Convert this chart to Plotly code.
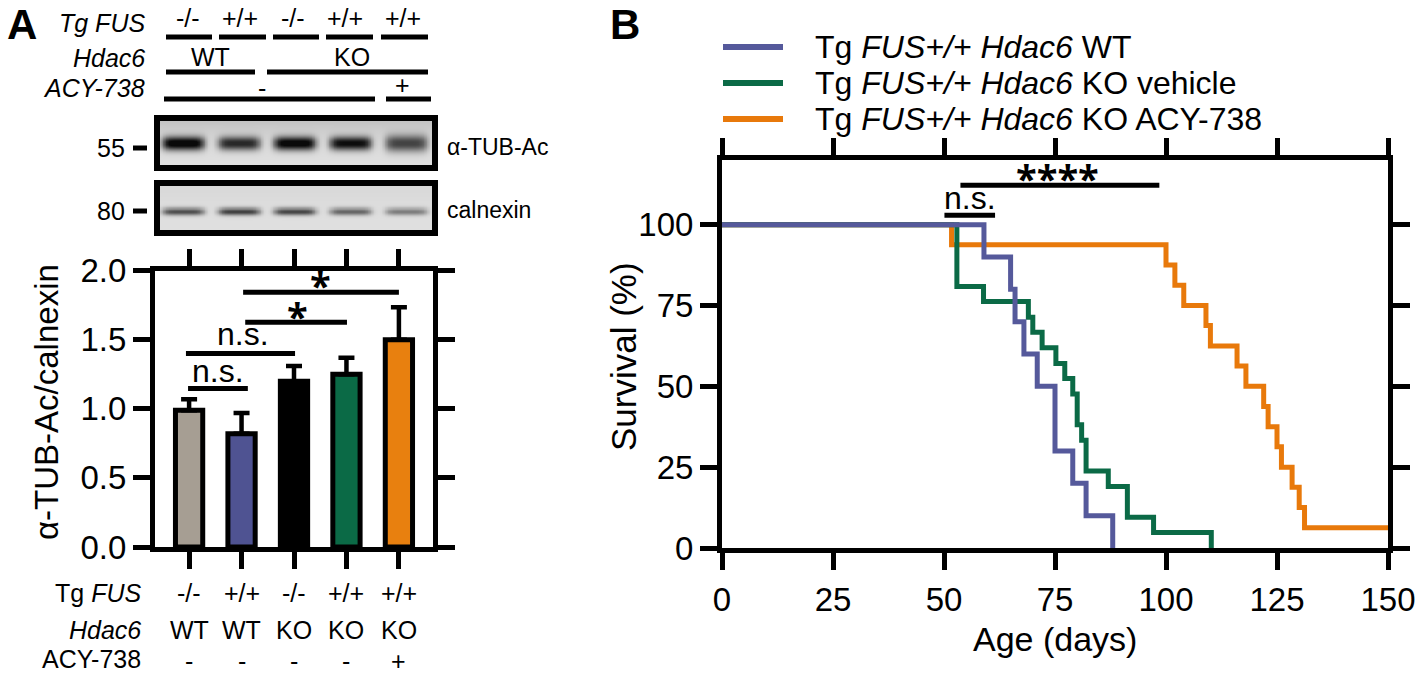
import numpy as np
import plotly.graph_objects as go

# ---------------- data ----------------
groups = ["1", "2", "3", "4", "5"]
fus_labels = ["-/-", "+/+", "-/-", "+/+", "+/+"]
hdac6_labels = ["WT", "WT", "KO", "KO", "KO"]
acy_labels = ["-", "-", "-", "-", "+"]

bar_values = [0.99, 0.82, 1.20, 1.25, 1.50]
bar_sem = [0.08, 0.15, 0.11, 0.12, 0.235]
bar_colors = ["#a69e93", "#4f5392", "#000000", "#0b6a46", "#e8800f"]

blot_tub_intensity = [0.97, 0.76, 0.95, 0.88, 0.64]
blot_cnx_intensity = [0.62, 0.68, 0.66, 0.52, 0.42]

wt_days = [0, 59, 65, 66, 68, 71, 75, 79, 82, 88]
wt_surv = [100, 90, 80, 70, 60, 50, 30, 20, 10, 0]

ko_days = [0, 52.9, 58.9, 69, 70, 72.1, 75.2, 77.2, 79, 80, 81, 82, 87, 91.3, 97.2, 110.2]
ko_surv = [100, 80.9, 76.2, 71.4, 66.7, 61.9, 57.1, 52.4, 47.6, 38.1, 33.3, 23.8, 19.0, 9.5, 4.8, 0]

acy_days = [0, 51.7, 100, 102, 104, 109, 110, 116, 118, 122, 123, 125, 126, 128.4, 130, 131.2, 150]
acy_surv = [100, 93.8, 87.5, 81.3, 75, 68.8, 62.5, 56.3, 50, 43.8, 37.5, 31.3, 25, 18.8, 12.5, 6.3, 6.3]

legend_names = ["Tg <i>FUS+/+ Hdac6</i> WT",
                "Tg <i>FUS+/+ Hdac6</i> KO vehicle",
                "Tg <i>FUS+/+ Hdac6</i> KO ACY-738"]
curve_colors = ["#55599b", "#0b6a46", "#e8790b"]

# ---------------- helpers ----------------
W, H = 1417, 675
FONT = "Liberation Sans"
def PX(x): return x / W
def PY(y): return 1 - y / H

fig = go.Figure()
shapes = []
ann = []

def text(x, y, s, size=25, xanchor="center", yanchor="middle", angle=0, bold=False, family=FONT, xref="paper"):
    ann.append(dict(x=PX(x) if xref == "paper" else x, y=PY(y), xref=xref, yref="paper", text=s,
                    showarrow=False, xanchor=xanchor, yanchor=yanchor, textangle=angle,
                    font=dict(size=size, family=family, color="black",
                              weight="bold" if bold else "normal")))

def hline(x0, x1, y, width=5):
    shapes.append(dict(type="line", xref="paper", yref="paper", x0=PX(x0), x1=PX(x1),
                       y0=PY(y), y1=PY(y), line=dict(color="black", width=width)))

# ---------------- Panel A: bars ----------------
x_idx = list(range(len(groups)))
fig.add_trace(go.Bar(
    x=x_idx, y=bar_values, width=0.52,
    marker=dict(color=bar_colors, line=dict(color="black", width=5)),
    error_y=dict(type="data", symmetric=False, array=bar_sem, arrayminus=[0] * 5,
                 color="black", thickness=4.5, width=8),
    xaxis="x", yaxis="y", showlegend=False, hoverinfo="skip"))

# significance bars panel A (category / value coordinates)
sig_a = [(-0.02, 1.12, 1.148, "n.s.", 0.55, 1.273, 32, "normal", FONT),
         (-0.06, 2.02, 1.40, "n.s.", 1.03, 1.541, 32, "normal", FONT),
         (1.07, 3.01, 1.626, "*", 2.06, 1.675, 38, "bold", "Open Sans"),
         (1.03, 4.00, 1.844, "*", 2.51, 1.895, 38, "bold", "Open Sans")]
for x0, x1, yv, lab, tx, ty, sz, wt, fam in sig_a:
    shapes.append(dict(type="line", xref="x", yref="y", x0=x0, x1=x1, y0=yv, y1=yv,
                       line=dict(color="black", width=5)))
    ann.append(dict(x=tx, y=ty, xref="x", yref="y", text=lab, showarrow=False,
                    font=dict(size=sz, family=fam, color="black", weight=wt),
                    xanchor="center", yanchor="middle"))

# ---------------- Panel A: blots ----------------
def blot(intens, yc, sy, last_sy, bg_top):
    xs = np.linspace(-0.466, 4.52, 180)
    ys = np.linspace(0, 1, 50)
    X, Y = np.meshgrid(xs, ys)
    Z = np.full(X.shape, 0.08) + bg_top * Y ** 2
    for i, v in enumerate(intens):
        s = last_sy if i == len(intens) - 1 else sy
        Z += v * np.exp(-((X - i) / 0.38) ** 6) * np.exp(-((Y - yc) / s) ** 2)
    return xs, ys, np.clip(Z, 0, 1)

gray = [[0, "#f2f2f2"], [1, "#0a0a0a"]]
xs, ys, Z1 = blot(blot_tub_intensity, 0.5, 0.13, 0.16, 0.14)
fig.add_trace(go.Heatmap(x=xs, y=ys, z=Z1, colorscale=gray, zmin=0, zmax=1, zsmooth="best",
                         showscale=False, hoverinfo="skip", xaxis="x3", yaxis="y3"))
xs, ys, Z2 = blot(blot_cnx_intensity, 0.44, 0.07, 0.07, 0.04)
fig.add_trace(go.Heatmap(x=xs, y=ys, z=Z2, colorscale=gray, zmin=0, zmax=1, zsmooth="best",
                         showscale=False, hoverinfo="skip", xaxis="x4", yaxis="y4"))
for y0, y1 in [(118, 168), (183, 233)]:
    shapes.append(dict(type="rect", xref="paper", yref="paper", x0=PX(157), x1=PX(435),
                       y0=PY(y1), y1=PY(y0), line=dict(color="black", width=6)))
# marker dashes + labels
hline(133, 147, 148, width=5)
hline(133, 147, 211, width=5)
text(127, 148, "55", size=25, xanchor="right")
text(127, 211, "80", size=25, xanchor="right")
text(445, 147, "α-TUB-Ac", size=23, xanchor="left")
text(445, 210, "calnexin", size=23, xanchor="left")

# ---------------- Panel A: header ----------------
text(147, 23, "<i>Tg FUS</i>", xanchor="right")
text(147, 58, "<i>Hdac6</i>", xanchor="right")
text(147, 88, "<i>ACY-738</i>", xanchor="right")
head_x = [188, 240, 293, 345, 403]
for x, s in zip(head_x, fus_labels):
    text(x, 18, s)
for a, b in [(166, 212), (219, 266), (273, 319), (326, 373), (381, 428)]:
    hline(a, b, 37)
text(210, 57, "WT")
text(352, 57, "KO")
for a, b in [(166, 255), (267, 428)]:
    hline(a, b, 72)
text(262, 88, "-")
text(402, 85, "+")
for a, b in [(164, 375), (386, 431)]:
    hline(a, b, 99)

# ---------------- Panel A: bottom labels ----------------
text(143, 593, "Tg <i>FUS</i>", xanchor="right")
text(143, 630, "<i>Hdac6</i>", xanchor="right")
text(143, 659, "ACY-738", xanchor="right")
for i in x_idx:
    text(i, 593, fus_labels[i], xref="x")
    text(i, 630, hdac6_labels[i], xref="x")
    text(i, 661, acy_labels[i], xref="x")

text(47, 402, "α-TUB-Ac/calnexin", size=33, angle=-90)
text(22, 25, "A", size=42, bold=True)

# ---------------- Panel B: survival ----------------
for d, s, c in [(acy_days, acy_surv, curve_colors[2]),
                (ko_days, ko_surv, curve_colors[1]),
                (wt_days, wt_surv, curve_colors[0])]:
    fig.add_trace(go.Scatter(x=d, y=s, mode="lines", line=dict(shape="hv", width=5, color=c),
                             xaxis="x2", yaxis="y2", showlegend=False, hoverinfo="skip"))

# significance bars panel B
for x0, x1, yv, lab, tx, ty, sz, wt, fam in [
        (50.1, 61.5, 102.9, "n.s.", 55.8, 108.3, 32, "normal", FONT),
        (53.7, 98.5, 112.2, "****", 75.6, 114.4, 38, "bold", "Open Sans")]:
    shapes.append(dict(type="line", xref="x2", yref="y2", x0=x0, x1=x1, y0=yv, y1=yv,
                       line=dict(color="black", width=5)))
    ann.append(dict(x=tx, y=ty, xref="x2", yref="y2", text=lab, showarrow=False,
                    font=dict(size=sz, family=fam, color="black", weight=wt),
                    xanchor="center", yanchor="middle"))

# legend (manual)
for k, (name, c) in enumerate(zip(legend_names, curve_colors)):
    yy = 47 + 36 * k
    shapes.append(dict(type="line", xref="paper", yref="paper", x0=PX(723), x1=PX(783),
                       y0=PY(yy), y1=PY(yy), line=dict(color=c, width=6)))
    text(813, yy, name, size=32, xanchor="left")

text(623, 357, "Survival (%)", size=35, angle=-90)
text(1055, 639, "Age (days)", size=34)
text(625, 25, "B", size=42, bold=True)

axis_common = dict(showgrid=False, zeroline=False, showline=True, linecolor="black", linewidth=5,
                   ticks="outside", ticklen=17, tickwidth=5, tickcolor="black", mirror="ticks",
                   automargin=False,
                   tickfont=dict(family=FONT, size=33, color="black"))

fig.update_layout(
    width=W, height=H, autosize=False, margin=dict(l=0, r=0, t=0, b=0, pad=0),
    paper_bgcolor="white", plot_bgcolor="white", showlegend=False,
    xaxis=dict(domain=[PX(155), PX(433)], range=[-0.65, 4.65], tickvals=x_idx,
               ticktext=[""] * 5, anchor="y", **axis_common),
    yaxis=dict(domain=[PY(547), PY(270.7)], range=[0, 2.0], tickvals=[0, 0.5, 1.0, 1.5, 2.0],
               tickformat=".1f", anchor="x", ticklabelstandoff=0, **axis_common),
    xaxis2=dict(domain=[PX(722), PX(1388)], range=[0, 150], tickvals=[0, 25, 50, 75, 100, 125, 150],
                anchor="y2", ticklabelstandoff=1, **axis_common),
    yaxis2=dict(domain=[PY(548), PY(160)], range=[0, 120], tickvals=[0, 25, 50, 75, 100],
                anchor="x2", ticklabelstandoff=0, **axis_common),
    xaxis3=dict(domain=[PX(157), PX(435)], range=[-0.466, 4.52], visible=False, anchor="y3", automargin=False),
    yaxis3=dict(domain=[PY(168), PY(118)], range=[0, 1], visible=False, anchor="x3", automargin=False),
    xaxis4=dict(domain=[PX(157), PX(435)], range=[-0.466, 4.52], visible=False, anchor="y4", automargin=False),
    yaxis4=dict(domain=[PY(233), PY(183)], range=[0, 1], visible=False, anchor="x4", automargin=False),
    shapes=shapes, annotations=ann,
)

fig.write_html("out.html", config={"displayModeBar": False},
               post_script="document.body.style.margin='0px';document.body.style.overflow='hidden';")
